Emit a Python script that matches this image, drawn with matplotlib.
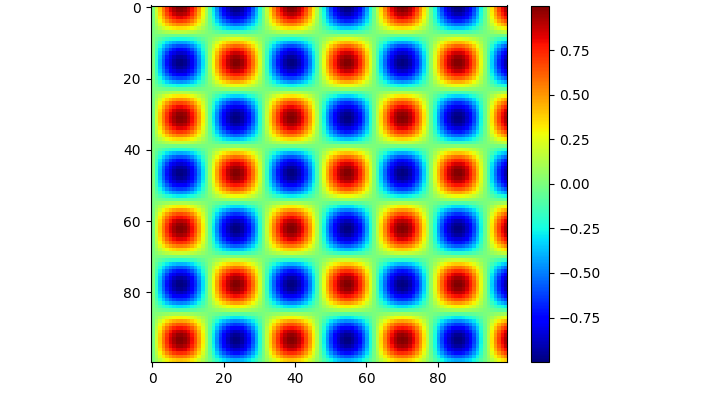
import matplotlib
matplotlib.use("Agg")
import matplotlib.pyplot as plt
import numpy as np

# Column profile of the grid, estimated left to right (x = 0..99)
col_profile = [
    0.0000, 0.2006, 0.3931, 0.5696, 0.7229, 0.8468, 0.9366, 0.9878, 0.9990, 0.9696,
    0.9007, 0.7952, 0.6574, 0.4926, 0.3082, 0.1111, -0.0906, -0.2886, -0.4748, -0.6418,
    -0.7826, -0.8916, -0.9642, -0.9978, -0.9908, -0.9434, -0.8577, -0.7370, -0.5869, -0.4123,
    -0.2207, -0.0206, 0.1805, 0.3741, 0.5526, 0.7085, 0.8358, 0.9291, 0.9843, 0.9997,
    0.9745, 0.9095, 0.8079, 0.6726, 0.5106, 0.3276, 0.1315, -0.0701, -0.2686, -0.4564,
    -0.6252, -0.7694, -0.8819, -0.9587, -0.9963, -0.9933, -0.9500, -0.8680, -0.7507, -0.6033,
    -0.4306, -0.2408, -0.0411, 0.1602, 0.3550, 0.5354, 0.6939, 0.8243, 0.9212, 0.9806,
    0.9999, 0.9788, 0.9178, 0.8195, 0.6877, 0.5281, 0.3470, 0.1518, -0.0496, -0.2490,
    -0.4382, -0.6096, -0.7563, -0.8722, -0.9526, -0.9943, -0.9955, -0.9562, -0.8780, -0.7641,
    -0.6195, -0.4490, -0.2606, -0.0616, 0.1399, 0.3357, 0.5178, 0.6791, 0.8125, 0.9129,
]

# Row profile of the grid, estimated top to bottom (y = 0..99)
row_profile = [
    1.0000, 0.9797, 0.9195, 0.8219, 0.6909, 0.5319, 0.3505, 0.1560, -0.0453, -0.2449,
    -0.4344, -0.6063, -0.7536, -0.8703, -0.9513, -0.9938, -0.9959, -0.9574, -0.8801, -0.7669,
    -0.6225, -0.4528, -0.2650, -0.0660, 0.1357, 0.3317, 0.5142, 0.6759, 0.8097, 0.9112,
    0.9753, 0.9998, 0.9836, 0.9274, 0.8335, 0.7058, 0.5490, 0.3699, 0.1763, -0.0248,
    -0.2247, -0.4157, -0.5894, -0.7400, -0.8598, -0.9448, -0.9913, -0.9975, -0.9633, -0.8898,
    -0.7804, -0.6388, -0.4713, -0.2846, -0.0864, 0.1153, 0.3122, 0.4966, 0.6607, 0.7975,
    0.9027, 0.9706, 0.9992, 0.9871, 0.9349, 0.8446, 0.7201, 0.5663, 0.3890, 0.1962,
    -0.0042, -0.2045, -0.3970, -0.5731, -0.7260, -0.8492, -0.9379, -0.9884, -0.9988, -0.9685,
    -0.8989, -0.7927, -0.6544, -0.4892, -0.3042, -0.1068, 0.0948, 0.2927, 0.4786, 0.6451,
    0.7850, 0.8932, 0.9654, 0.9981, 0.9902, 0.9420, 0.8555, 0.7342, 0.5830, 0.4081,
]

# The pattern is separable, so the cells are the two read profiles crossed
grid = np.outer(row_profile, col_profile)

fig = plt.figure(figsize=(7.15, 3.95), dpi=100)

# Axes and colorbar placed by hand to sit on the same pixels as the reference
ax = fig.add_axes([150.7 / 715, 1 - 361.9 / 395, 356.4 / 715, 356.4 / 395])
cax = fig.add_axes([531 / 715, 1 - 361.9 / 395, 18 / 715, 356.4 / 395])

im = ax.imshow(grid, cmap="jet")
fig.colorbar(im, cax=cax)

plt.savefig("out.png", dpi=100)
